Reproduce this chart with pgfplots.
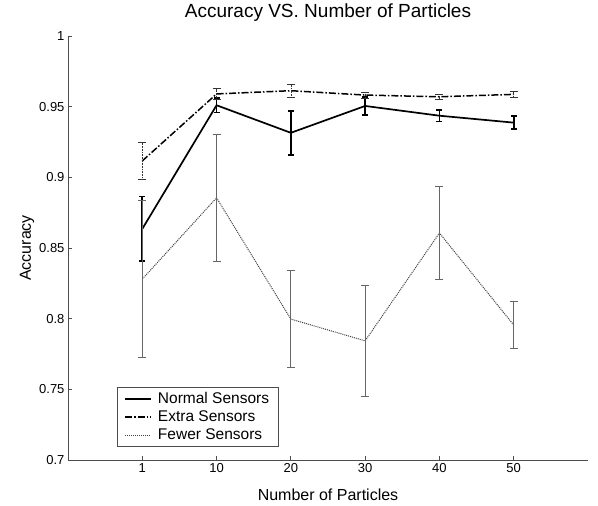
\documentclass[border=0pt]{standalone}
\usepackage{fontspec}
\setmainfont{Liberation Sans}
\usepackage{pgfplots}
\pgfplotsset{compat=1.18}
\begin{document}
\begin{tikzpicture}[x=1pt,y=1pt]
\useasboundingbox (0,0) rectangle (598,506);
\begin{axis}[at={(68pt,46pt)}, anchor=south west, scale only axis,
  width=520pt, height=424pt,
  xmin=0, xmax=7, ymin=0.7, ymax=1,
  axis lines*=left,
  axis line style={gray!60!black, line width=0.8pt},
  xtick={1,2,3,4,5,6}, xticklabels={1,10,20,30,40,50},
  ytick={0.7,0.75,0.8,0.85,0.9,0.95,1},
  yticklabels={0.7,0.75,0.8,0.85,0.9,0.95,1},
  tick align=inside, major tick length=4pt,
  tick style={gray!60!black, line width=0.8pt},
  /pgf/number format/assume math mode=true,
  tick label style={font=\fontsize{13}{15}\selectfont},
  title={Accuracy VS. Number of Particles},
  title style={at={(axis description cs:0.5,1.0283)}, anchor=base, inner sep=0pt, font=\fontsize{19}{22}\selectfont},
  xlabel={Number of Particles},
  xlabel style={at={(axis description cs:0.5,-0.0967)}, anchor=base, inner sep=0pt, font=\fontsize{16}{19}\selectfont},
  ylabel={Accuracy},
  ylabel style={at={(axis description cs:-0.0712,0.5)}, anchor=base, inner sep=0pt, font=\fontsize{16}{19}\selectfont},
  legend style={at={(axis description cs:0.094,0.031)}, anchor=south west,
    font=\fontsize{15.5}{17.5}\selectfont, draw=gray!60!black, line width=0.8pt,
    inner xsep=7pt, inner ysep=3pt, row sep=1.8pt, cells={anchor=west},
    /tikz/every odd column/.append style={column sep=4pt}},
  legend image code/.code={\draw[#1] (0pt,0pt) -- (26pt,0pt);},
]
\addplot[black, line width=1.7pt, mark=none,
  error bars/.cd, y dir=both, y explicit,
  error bar style={black, line width=1.6pt, solid},
  error mark options={rotate=90, mark size=3pt, line width=1.6pt, black}]
coordinates {
(1,0.8635) +- (0,0.0228)
(2,0.951) +- (0,0.005)
(3,0.9315) +- (0,0.0155)
(4,0.9505) +- (0,0.0065)
(5,0.9436) +- (0,0.0041)
(6,0.9387) +- (0,0.0045)
};
\addlegendentry{Normal Sensors}
\addplot[black, line width=1.5pt, mark=none, dash pattern=on 7pt off 2pt on 1.5pt off 2pt,
  error bars/.cd, y dir=both, y explicit,
  error bar style={black!80, line width=0.7pt, dash pattern=on 1pt off 0.6pt},
  error mark options={rotate=90, mark size=4pt, line width=0.7pt, black!80, solid}]
coordinates {
(1,0.9116) +- (0,0.013)
(2,0.959) +- (0,0.0038)
(3,0.9613) +- (0,0.0045)
(4,0.9582) +- (0,0.002)
(5,0.957) +- (0,0.002)
(6,0.9587) +- (0,0.002)
};
\addlegendentry{Extra Sensors}
\addplot[black!75, line width=1pt, mark=none, dash pattern=on 1pt off 1pt,
  error bars/.cd, y dir=both, y explicit,
  error bar style={gray!80!black, line width=0.9pt, solid},
  error mark options={rotate=90, mark size=4pt, line width=0.9pt, gray!80!black}]
coordinates {
(1,0.828) +- (0,0.0555)
(2,0.8855) +- (0,0.045)
(3,0.7997) +- (0,0.0342)
(4,0.7843) +- (0,0.0395)
(5,0.8606) +- (0,0.0332)
(6,0.7955) +- (0,0.0165)
};
\addlegendentry{Fewer Sensors}
\end{axis}
\end{tikzpicture}
\end{document}
